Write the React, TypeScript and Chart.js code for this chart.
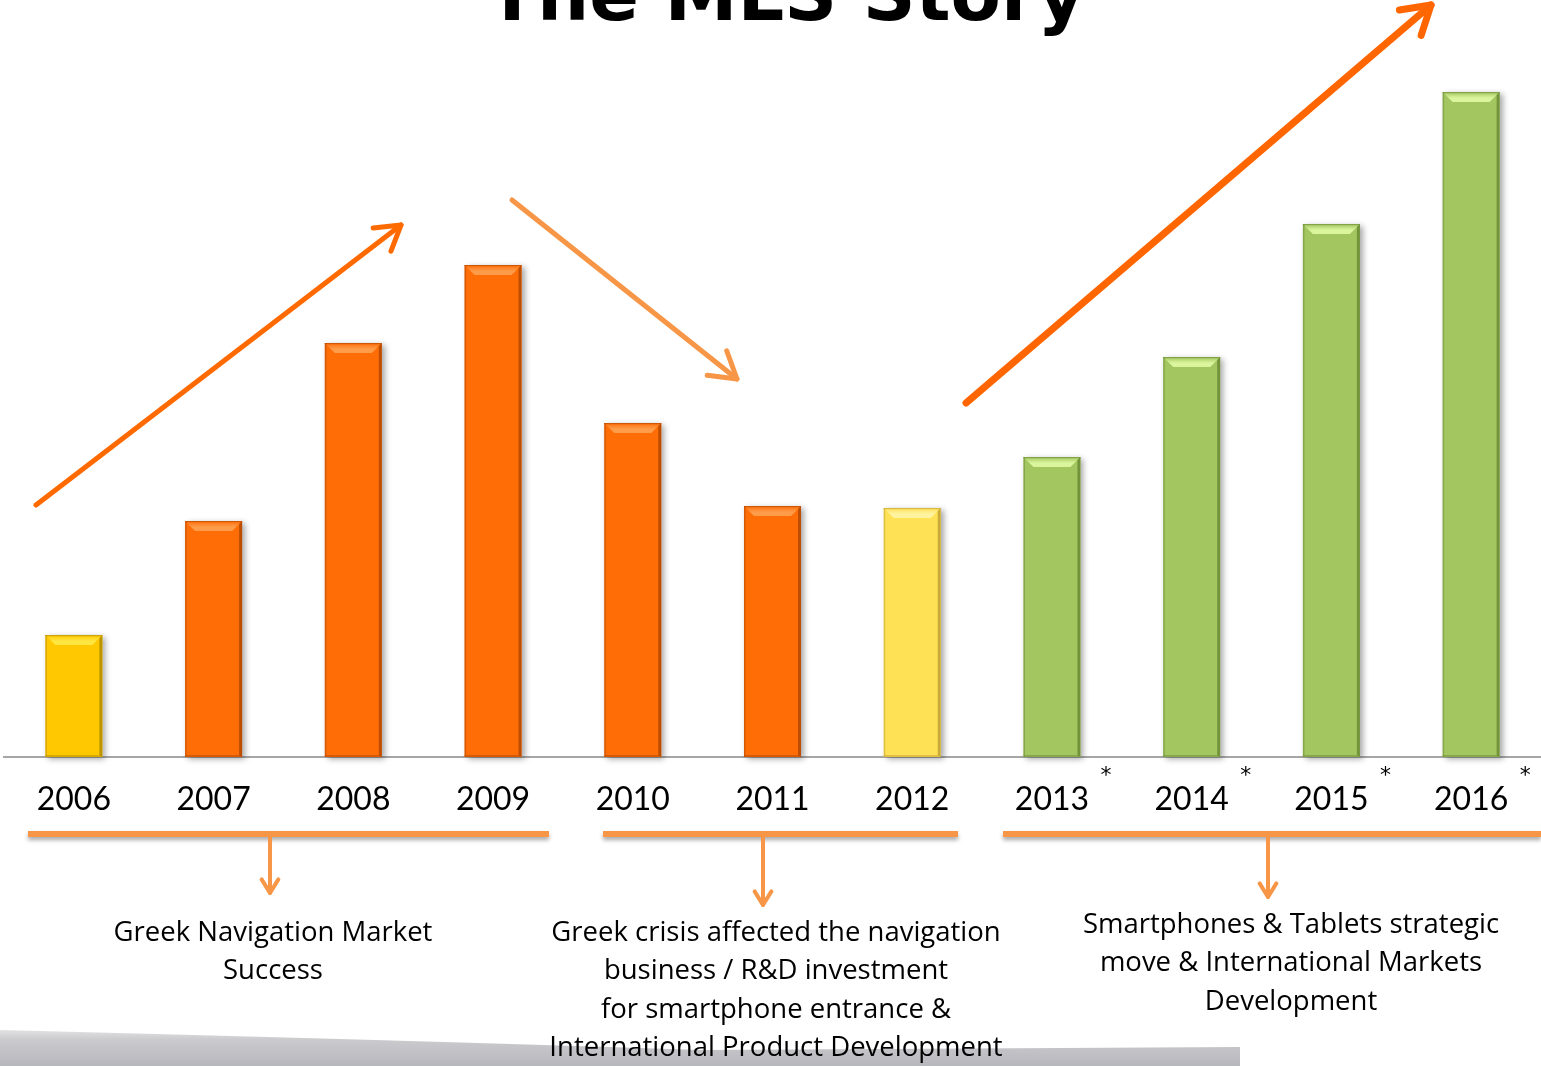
import React, { useEffect, useRef } from "react";
import { Chart, registerables } from "chart.js";

Chart.register(...registerables);

// ---- data ----
const years = ["2006", "2007", "2008", "2009", "2010", "2011", "2012", "2013", "2014", "2015", "2016"];
const values = [122, 236, 414, 492, 334, 251, 249, 300, 400, 533, 665];
const barKinds = ["gold", "orange", "orange", "orange", "orange", "orange", "yellow", "green", "green", "green", "green"];
const starred = [false, false, false, false, false, false, false, true, true, true, true];
const titleText = "The MLS Story";
const groupTexts = [
  ["Greek Navigation Market", "Success"],
  ["Greek crisis affected the navigation", "business / R&D investment", "for smartphone entrance &", "International Product Development"],
  ["Smartphones & Tablets strategic", "move & International Markets", "Development"],
];

// ---- styles ----
const kindStyle: Record<string, { base: string; light: string; dark: string }> = {
  gold: { base: "#FFC800", light: "#FFE640", dark: "#B08A00" },
  orange: { base: "#FF6D07", light: "#FF9C4A", dark: "#B04800" },
  yellow: { base: "#FFE156", light: "#FFF3A0", dark: "#C0A030" },
  green: { base: "#A3C660", light: "#DAF59C", dark: "#6A8A34" },
};

function arrow(ctx: CanvasRenderingContext2D, x1: number, y1: number, x2: number, y2: number, color: string, w: number, head: number) {
  const a = Math.atan2(y2 - y1, x2 - x1);
  ctx.save();
  ctx.strokeStyle = color;
  ctx.lineWidth = w;
  ctx.lineCap = "round";
  ctx.lineJoin = "round";
  ctx.beginPath();
  ctx.moveTo(x1, y1);
  ctx.lineTo(x2, y2);
  ctx.stroke();
  ctx.beginPath();
  ctx.moveTo(x2 - head * Math.cos(a - 0.55), y2 - head * Math.sin(a - 0.55));
  ctx.lineTo(x2, y2);
  ctx.lineTo(x2 - head * Math.cos(a + 0.55), y2 - head * Math.sin(a + 0.55));
  ctx.stroke();
  ctx.restore();
}

const decoPlugin = {
  id: "deco",
  beforeDraw(chart: any) {
    const ctx = chart.ctx as CanvasRenderingContext2D;
    ctx.save();
    ctx.fillStyle = "#ffffff";
    ctx.fillRect(0, 0, chart.width, chart.height);
    // bottom swoosh
    const g = ctx.createLinearGradient(0, 1025, 0, 1066);
    g.addColorStop(0, "#ededed");
    g.addColorStop(0.35, "#cbcbce");
    g.addColorStop(1, "#b6b6bd");
    ctx.fillStyle = g;
    ctx.beginPath();
    ctx.moveTo(0, 1030);
    ctx.quadraticCurveTo(400, 1040, 700, 1050);
    ctx.lineTo(1240, 1047);
    ctx.lineTo(1240, 1066);
    ctx.lineTo(0, 1066);
    ctx.closePath();
    ctx.fill();
    ctx.restore();
  },
  beforeDatasetsDraw(chart: any) {
    const ctx = chart.ctx as CanvasRenderingContext2D;
    const meta = chart.getDatasetMeta(0);
    ctx.save();
    meta.data.forEach((bar: any) => {
      const { x, y, base, width } = bar.getProps(["x", "y", "base", "width"], true);
      ctx.shadowColor = "rgba(0,0,0,0.35)";
      ctx.shadowBlur = 6;
      ctx.shadowOffsetX = 3;
      ctx.shadowOffsetY = 2;
      ctx.fillStyle = "#ffffff";
      ctx.fillRect(x - width / 2, y, width, base - y);
    });
    ctx.restore();
  },
  afterDatasetsDraw(chart: any) {
    const ctx = chart.ctx as CanvasRenderingContext2D;
    const meta = chart.getDatasetMeta(0);
    ctx.save();
    meta.data.forEach((bar: any, i: number) => {
      const { x, y, base, width } = bar.getProps(["x", "y", "base", "width"], true);
      const st = kindStyle[barKinds[i]];
      const l = x - width / 2;
      const r = x + width / 2;
      const b = 10;
      // top bevel
      const tg = ctx.createLinearGradient(0, y, 0, y + b);
      tg.addColorStop(0, st.base);
      tg.addColorStop(0.6, st.light);
      tg.addColorStop(1, st.light);
      ctx.fillStyle = tg;
      ctx.beginPath();
      ctx.moveTo(l, y);
      ctx.lineTo(r, y);
      ctx.lineTo(r - b, y + b);
      ctx.lineTo(l + b, y + b);
      ctx.closePath();
      ctx.fill();
      // right edge
      ctx.fillStyle = st.dark;
      ctx.globalAlpha = 0.85;
      ctx.beginPath();
      ctx.moveTo(r, y);
      ctx.lineTo(r, base);
      ctx.lineTo(r - 3, base - 2);
      ctx.lineTo(r - 3, y + 3);
      ctx.closePath();
      ctx.fill();
      // left edge
      ctx.globalAlpha = 0.5;
      ctx.fillRect(l, y, 1.5, base - y);
      ctx.fillRect(l, base - 2, width, 2);
      ctx.globalAlpha = 0.6;
      ctx.fillRect(l, y, width, 1.2);
      ctx.globalAlpha = 1;
    });
    ctx.restore();
  },
  afterDraw(chart: any) {
    const ctx = chart.ctx as CanvasRenderingContext2D;
    const xs = chart.scales.x;
    ctx.save();
    // title (cut off at the top)
    ctx.fillStyle = "#000";
    ctx.textAlign = "left";
    ctx.textBaseline = "alphabetic";
    let fs = 80;
    ctx.font = `bold ${fs}px "DejaVu Sans"`;
    const w0 = ctx.measureText(titleText).width;
    fs = (fs * 598) / w0;
    ctx.font = `bold ${fs}px "DejaVu Sans"`;
    ctx.fillText(titleText, 487, 20);

    // asterisks
    ctx.font = `22px "DejaVu Sans"`;
    ctx.textAlign = "center";
    ctx.textBaseline = "middle";
    starred.forEach((s, i) => {
      if (!s) return;
      const px = xs.getPixelForValue(i);
      ctx.fillText("*", px + 54, 776);
    });

    // brackets
    ctx.save();
    ctx.strokeStyle = "#F79646";
    ctx.lineWidth = 6;
    ctx.shadowColor = "rgba(0,0,0,0.35)";
    ctx.shadowBlur = 4;
    ctx.shadowOffsetY = 3;
    const brackets = [
      [28, 549],
      [603, 958],
      [1003, 1541],
    ];
    brackets.forEach(([a, b]) => {
      ctx.beginPath();
      ctx.moveTo(a, 834);
      ctx.lineTo(b, 834);
      ctx.stroke();
    });
    ctx.restore();
    arrow(ctx, 270, 837, 270, 893, "#F79646", 4, 16);
    arrow(ctx, 763, 834, 763, 905, "#F79646", 4, 16);
    arrow(ctx, 1268, 837, 1268, 897, "#F79646", 4, 16);

    // trend arrows
    arrow(ctx, 36, 505, 401, 225, "#FF6A00", 5, 28);
    arrow(ctx, 512, 200, 737, 379, "#F79646", 5, 30);
    arrow(ctx, 966, 403, 1431, 5, "#FF6600", 7, 32);

    // group texts
    ctx.fillStyle = "#000";
    ctx.textAlign = "center";
    ctx.textBaseline = "middle";
    ctx.font = `27.5px "Open Sans"`;
    const centers = [273, 776, 1291];
    const tops = [933, 933, 925];
    groupTexts.forEach((lines, gi) => {
      lines.forEach((t, li) => {
        ctx.fillText(t, centers[gi], tops[gi] + li * 38.5);
      });
    });
    ctx.restore();
  },
};

export default function App() {
  const ref = useRef<HTMLCanvasElement>(null);
  useEffect(() => {
    document.body.style.margin = "0";
    document.body.style.overflow = "hidden";
    const chart = new Chart(ref.current as HTMLCanvasElement, {
      type: "bar",
      data: {
        labels: years,
        datasets: [
          {
            data: values,
            backgroundColor: barKinds.map((k) => kindStyle[k].base),
            borderWidth: 0,
            barPercentage: 0.408,
            categoryPercentage: 1,
          },
        ],
      },
      options: {
        responsive: false,
        animation: false,
        events: [],
        layout: { padding: { top: 57, left: 4, right: 0, bottom: 0 } },
        plugins: { legend: { display: false }, tooltip: { enabled: false }, title: { display: false } },
        scales: {
          x: {
            grid: { display: false, drawTicks: false },
            border: { display: true, color: "#A6A6A6", width: 2 },
            ticks: {
              color: "#000",
              padding: 23,
              maxRotation: 0,
              autoSkip: false,
              font: { family: "Lato", size: 32, weight: "normal" },
            },
            afterFit: (s: any) => {
              s.height = 309;
            },
          },
          y: { display: false, min: 0, max: 700 },
        },
      },
      plugins: [decoPlugin],
    });
    return () => chart.destroy();
  }, []);
  return (
    <div style={{ width: 1541, height: 1066 }}>
      <canvas ref={ref} width={1541} height={1066} />
    </div>
  );
}
